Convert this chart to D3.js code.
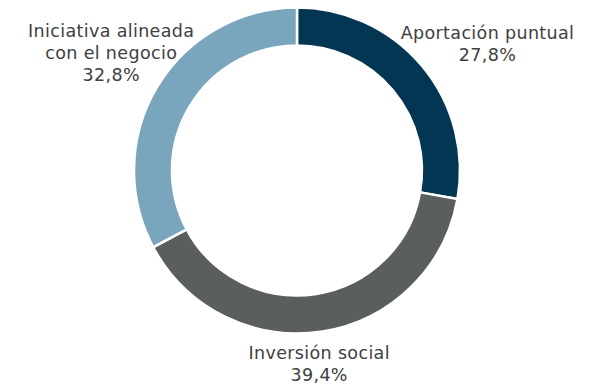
<!DOCTYPE html>
<html>
<head>
<meta charset="utf-8">
<script src="https://cdn.jsdelivr.net/npm/d3@7"></script>
<style>
  html, body { margin: 0; padding: 0; background: #ffffff; }
  svg { display: block; }
</style>
</head>
<body>
<svg id="chart" width="597" height="384"></svg>
<script>
// Distribution of contributions by type
const categories = ["Aportación puntual", "Inversión social", "Iniciativa alineada con el negocio"];
const labelLines = [["Aportación puntual"], ["Inversión social"], ["Iniciativa alineada", "con el negocio"]];
const shares = [27.8, 39.4, 32.8];
const colors = ["#023652", "#5a5f5e", "#7aa6bd"];

const width = 597, height = 384;
const cx = 297, cy = 170.5;
const outerR = 163, innerR = 125;
const fontSize = 17.5, lineH = 22;

// Small label nudges relative to the radial anchor
const nudges = [[28, 10], [-11, -16], [-4, -9]];

const svg = d3.select("#chart");
const g = svg.append("g").attr("transform", `translate(${cx},${cy})`);

const pie = d3.pie().sort(null).value(d => d)(shares);
const arc = d3.arc().innerRadius(innerR).outerRadius(outerR);
const labelArc = d3.arc().innerRadius(212).outerRadius(212);

g.selectAll("path.slice")
  .data(pie)
  .join("path")
  .attr("class", "slice")
  .attr("d", arc)
  .attr("fill", (d, i) => colors[i])
  .attr("stroke", "#ffffff")
  .attr("stroke-width", 2.5)
  .attr("stroke-linejoin", "miter");

const fmt = v => v.toFixed(1).replace(".", ",") + "%";

g.selectAll("text.label")
  .data(pie)
  .join("text")
  .attr("class", "label")
  .attr("text-anchor", "middle")
  .attr("font-family", "'DejaVu Sans', Verdana, sans-serif")
  .attr("font-size", fontSize)
  .attr("letter-spacing", 0.35)
  .attr("fill", "#404040")
  .each(function(d, i) {
    const [x0, y0] = labelArc.centroid(d);
    const x = x0 + nudges[i][0];
    const yc = y0 + nudges[i][1];
    const lines = labelLines[i].concat([fmt(shares[i])]);
    const top = yc - (lines.length - 1) * lineH / 2;
    const t = d3.select(this);
    lines.forEach((ln, k) => {
      t.append("tspan")
        .attr("x", x)
        .attr("y", top + k * lineH)
        .attr("dy", "0.35em")
        .text(ln);
    });
  });
</script>
</body>
</html>
